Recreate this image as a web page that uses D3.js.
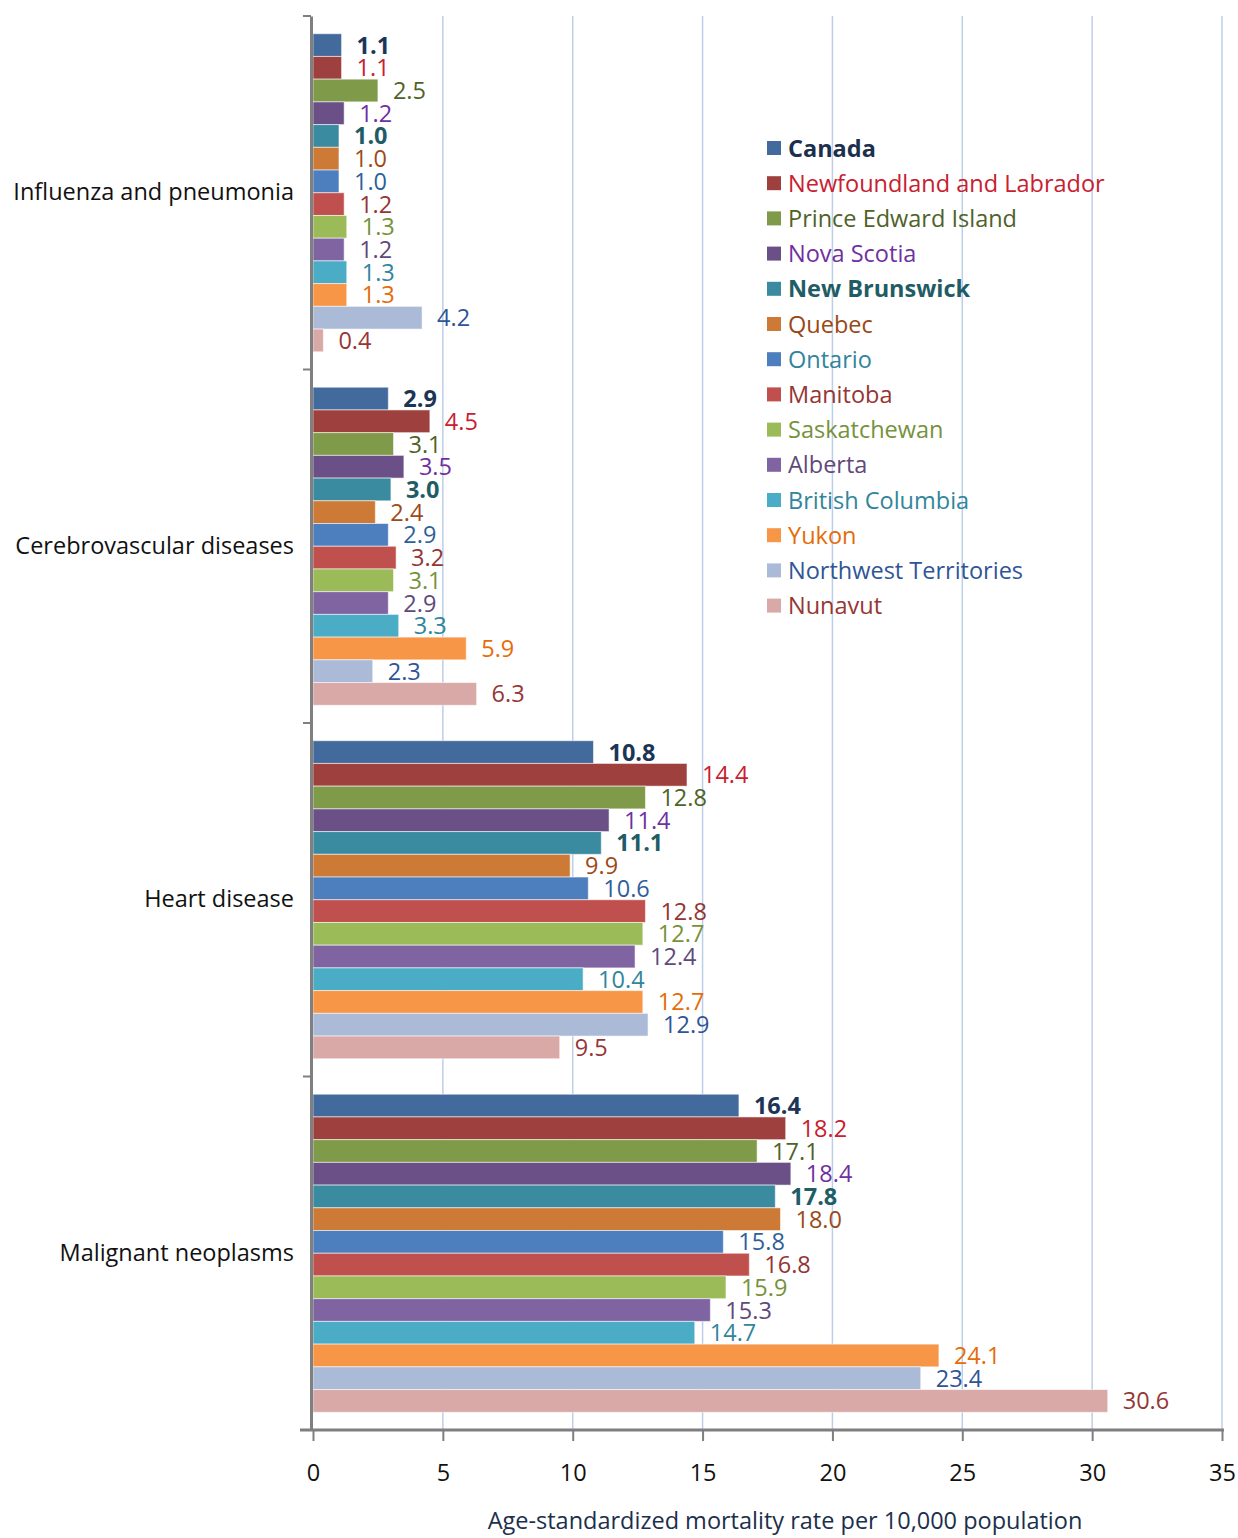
<!DOCTYPE html>
<html>
<head>
<meta charset="utf-8">
<script src="https://cdn.jsdelivr.net/npm/d3@7"></script>
<style>
  html, body { margin: 0; padding: 0; background: #fff; }
  svg { display: block; font-family: "Open Sans", "Noto Sans", sans-serif; }
</style>
</head>
<body>
<svg id="chart" width="1238" height="1538"></svg>
<script>
// Causes of death (one group of bars each)
const causes = ["Influenza and pneumonia", "Cerebrovascular diseases", "Heart disease", "Malignant neoplasms"];

// Jurisdictions (one bar per cause each)
const regions = ["Canada", "Newfoundland and Labrador", "Prince Edward Island", "Nova Scotia",
  "New Brunswick", "Quebec", "Ontario", "Manitoba", "Saskatchewan", "Alberta",
  "British Columbia", "Yukon", "Northwest Territories", "Nunavut"];

// Age-standardized mortality rate per 10,000 population, in region order
const influenzaRates       = [1.1, 1.1, 2.5, 1.2, 1.0, 1.0, 1.0, 1.2, 1.3, 1.2, 1.3, 1.3, 4.2, 0.4];
const cerebrovascularRates = [2.9, 4.5, 3.1, 3.5, 3.0, 2.4, 2.9, 3.2, 3.1, 2.9, 3.3, 5.9, 2.3, 6.3];
const heartRates           = [10.8, 14.4, 12.8, 11.4, 11.1, 9.9, 10.6, 12.8, 12.7, 12.4, 10.4, 12.7, 12.9, 9.5];
const neoplasmRates        = [16.4, 18.2, 17.1, 18.4, 17.8, 18.0, 15.8, 16.8, 15.9, 15.3, 14.7, 24.1, 23.4, 30.6];

const xTicks = [0, 5, 10, 15, 20, 25, 30, 35];
const xTitle = "Age-standardized mortality rate per 10,000 population";

// Styling per region
const barColors = ["#426a9c", "#9e413e", "#7f9a48", "#6a5087", "#3a8aa0", "#cc7a35", "#4d7ebd",
  "#c0504d", "#9bbb59", "#8064a2", "#4bacc6", "#f79646", "#aabad7", "#d9a9a8"];
const labelColors = ["#1c3557", "#c8202f", "#4f6228", "#7030a0", "#1f5c66", "#9c4a1a", "#2f5f9a",
  "#943634", "#76923c", "#5f497a", "#31859c", "#e46c0a", "#2f5597", "#953735"];
const legendColors = ["#1c2f4d", "#c8202f", "#4f6228", "#7030a0", "#1f5c66", "#984816", "#31849b",
  "#943634", "#76923c", "#5f497a", "#31859c", "#e46c0a", "#2f5597", "#953735"];
const boldRegions = new Set(["Canada", "New Brunswick"]);

const fontSize = 23.5;

const ratesByCause = [influenzaRates, cerebrovascularRates, heartRates, neoplasmRates];
const rows = causes.map((cause, ci) => ({
  cause,
  values: regions.map((region, ri) => ({ region, ri, value: ratesByCause[ci][ri] }))
}));

const svg = d3.select("#chart");
const plotLeft = 313, plotRight = 1222, plotTop = 16, plotBottom = 1430;

const x = d3.scaleLinear().domain([0, 35]).range([plotLeft, plotRight]);
const y0 = d3.scaleBand().domain(causes).range([plotTop, plotBottom]).paddingInner(0).paddingOuter(0);
const y1 = d3.scaleBand().domain(regions).range([0, y0.bandwidth()]).paddingOuter(0.78).paddingInner(0);

// Vertical gridlines
svg.append("g").selectAll("line")
  .data(xTicks.filter(t => t > 0))
  .join("line")
  .attr("x1", d => x(d)).attr("x2", d => x(d))
  .attr("y1", plotTop).attr("y2", plotBottom)
  .attr("stroke", "#bccfe6").attr("stroke-width", 1.5);

// Bars
const groups = svg.append("g").selectAll("g")
  .data(rows)
  .join("g")
  .attr("transform", d => `translate(0,${y0(d.cause)})`);

groups.selectAll("rect")
  .data(d => d.values)
  .join("rect")
  .attr("x", x(0))
  .attr("y", d => y1(d.region))
  .attr("width", d => x(d.value) - x(0))
  .attr("height", y1.bandwidth())
  .attr("fill", d => barColors[d.ri])
  .attr("stroke", "rgba(255,255,255,0.55)")
  .attr("stroke-width", 1);

// Value labels
groups.selectAll("text")
  .data(d => d.values)
  .join("text")
  .attr("x", d => x(d.value) + 15)
  .attr("y", d => y1(d.region) + y1.bandwidth() / 2 + 8.5)
  .attr("font-size", fontSize)
  .attr("font-weight", d => boldRegions.has(d.region) ? 700 : 400)
  .attr("fill", d => labelColors[d.ri])
  .text(d => d3.format(".1f")(d.value));

// X axis
const xAxis = svg.append("g").attr("transform", `translate(0,${plotBottom})`)
  .call(d3.axisBottom(x).tickValues(xTicks).tickSize(11).tickPadding(23).tickFormat(d3.format("d")));
xAxis.select(".domain").remove();
xAxis.selectAll(".tick line").attr("stroke", "#7f7f7f").attr("stroke-width", 2);
xAxis.selectAll(".tick text").attr("font-size", fontSize).attr("fill", "#111").attr("font-family", "Open Sans");
svg.append("line")
  .attr("x1", 300).attr("x2", plotRight + 2)
  .attr("y1", plotBottom).attr("y2", plotBottom)
  .attr("stroke", "#7f7f7f").attr("stroke-width", 3);

// Y axis
const yAxis = svg.append("g").attr("transform", `translate(${plotLeft - 2},0)`)
  .call(d3.axisLeft(y0).tickSize(0).tickPadding(17));
yAxis.select(".domain").attr("stroke", "#7f7f7f").attr("stroke-width", 3);
yAxis.selectAll(".tick text").attr("font-size", fontSize).attr("fill", "#111").attr("font-family", "Open Sans");
svg.append("g").selectAll("line")
  .data(d3.range(causes.length + 1))
  .join("line")
  .attr("x1", plotLeft - 10).attr("x2", plotLeft - 2)
  .attr("y1", i => plotTop + i * y0.step()).attr("y2", i => plotTop + i * y0.step())
  .attr("stroke", "#7f7f7f").attr("stroke-width", 2);

// Axis title
svg.append("text")
  .attr("x", 785).attr("y", 1529)
  .attr("text-anchor", "middle")
  .attr("font-size", fontSize)
  .attr("fill", "#1c2f4d")
  .text(xTitle);

// Legend
const legend = svg.append("g").attr("transform", "translate(767,148)");
const legendItems = legend.selectAll("g")
  .data(regions)
  .join("g")
  .attr("transform", (d, i) => `translate(0,${i * 35.2})`);
legendItems.append("rect")
  .attr("x", 0).attr("y", -7).attr("width", 14).attr("height", 14)
  .attr("fill", (d, i) => barColors[i]);
legendItems.append("text")
  .attr("x", 21).attr("y", 8.5)
  .attr("font-size", fontSize)
  .attr("font-weight", d => boldRegions.has(d) ? 700 : 400)
  .attr("fill", (d, i) => legendColors[i])
  .text(d => d);
</script>
</body>
</html>
